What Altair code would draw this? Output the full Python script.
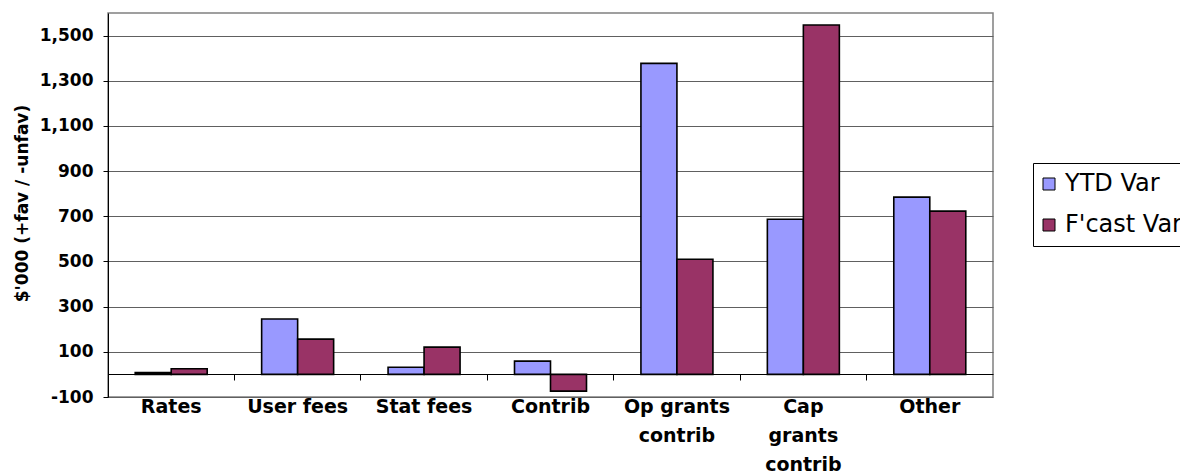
import altair as alt
import pandas as pd

categories = ["Rates", "User fees", "Stat fees", "Contrib",
              "Op grants contrib", "Cap grants contrib", "Other"]
label_lines = [["Rates"], ["User fees"], ["Stat fees"], ["Contrib"],
               ["Op grants", "contrib"], ["Cap", "grants", "contrib"], ["Other"]]
series = ["YTD Var", "F'cast Var"]
ytd_var = [8, 245, 32, 59, 1377, 687, 785]
fcast_var = [25, 156, 121, -74, 510, 1547, 723]
y_ticks = [-100, 100, 300, 500, 700, 900, 1100, 1300, 1500]
colors = ["#9999FF", "#993366"]

rows = []
for c, a, b in zip(categories, ytd_var, fcast_var):
    rows.append({"cat": c, "series": series[0], "value": a})
    rows.append({"cat": c, "series": series[1], "value": b})
df = pd.DataFrame(rows)

# label expression for wrapped category labels
expr = "datum.label"
for c, lines in zip(categories, label_lines):
    if len(lines) > 1:
        arr = "[" + ",".join("'" + l + "'" for l in lines) + "]"
        expr = f"datum.value == '{c}' ? {arr} : ({expr})"

FONT = "DejaVu Sans"

y_enc = alt.Y(
    "value:Q",
    scale=alt.Scale(domain=[-100, 1600], nice=False, zero=False),
    axis=alt.Axis(
        values=y_ticks, grid=True, gridColor="#606060", gridWidth=1,
        labelExpr="datum.value < 0 ? '-' + format(-datum.value, ',d') : format(datum.value, ',d')",
        domain=True, domainColor="#000000", domainWidth=1,
        ticks=True, tickSize=5, tickColor="#000000",
        labelFont=FONT, labelFontSize=17, labelFontWeight="bold", labelColor="#000000",
        labelPadding=10,
        title="$'000 (+fav / -unfav)", titleFont=FONT, titleFontSize=17,
        titleFontWeight="bold", titleColor="#000000", titleAngle=-90,
        titleX=-86, titleY=190, titleAlign="center", titleBaseline="middle",
    ),
)

x_scale = alt.Scale(paddingInner=0, paddingOuter=0)

bars = alt.Chart(df).mark_bar(stroke="#000000", strokeWidth=1.6).encode(
    x=alt.X(
        "cat:N", sort=categories, scale=x_scale,
        axis=alt.Axis(
            title=None, labelAngle=0, domain=False, ticks=False, grid=False,
            labelFont=FONT, labelFontSize=19, labelFontWeight="bold",
            labelColor="#000000", labelPadding=0, labelLineHeight=29,
            labelBaseline="top", labelExpr=expr, labelLimit=0,
        ),
    ),
    xOffset=alt.XOffset("series:N", sort=series,
                        scale=alt.Scale(paddingInner=0, paddingOuter=0.756)),
    y=y_enc,
    color=alt.Color(
        "series:N", sort=series,
        scale=alt.Scale(domain=series, range=colors),
        legend=alt.Legend(
            title=None, orient="none", legendX=925, legendY=150,
            labelFont=FONT, labelFontSize=24, labelColor="#000000",
            symbolType="square", symbolSize=144, symbolStrokeColor="#000000",
            symbolStrokeWidth=1, symbolOffset=-5, labelOffset=4,
            padding=9, rowPadding=17,
            strokeColor="#000000", fillColor="#FFFFFF", cornerRadius=0,
        ),
    ),
)

zero_axis = alt.Chart(df).mark_point(opacity=0).encode(
    x=alt.X(
        "cat:N", sort=categories, scale=x_scale,
        axis=alt.Axis(
            title=None, labels=False, grid=False, orient="bottom", offset=-23,
            domain=True, domainColor="#000000", domainWidth=1.2,
            ticks=True, tickSize=6, tickColor="#000000", tickWidth=1,
            bandPosition=0,
        ),
    ),
    y=y_enc,
)

chart = alt.layer(bars, zero_axis).resolve_axis(x="independent").properties(
    width=885, height=384,
    autosize=alt.AutoSizeParams(type="none"),
    padding={"left": 108, "top": 13, "right": 187, "bottom": 78},
    background="#FFFFFF",
).configure_view(stroke="#808080", strokeWidth=1.5)

chart.save("out.html", embed_options={"renderer": "svg", "actions": False})
